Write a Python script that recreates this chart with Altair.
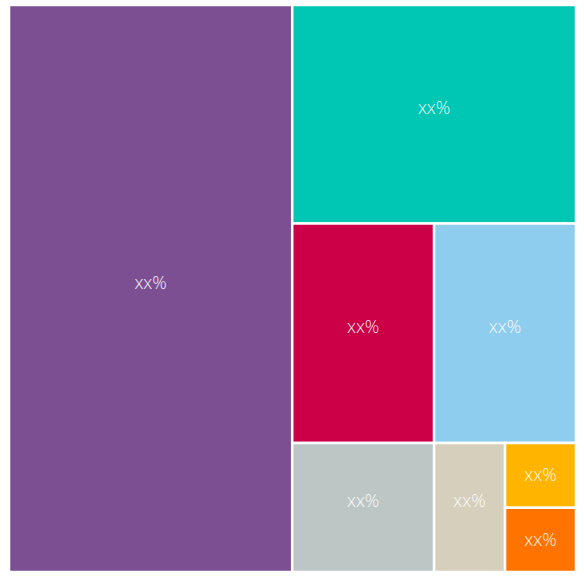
import math
import altair as alt
import pandas as pd

categories = ["A", "B", "C", "D", "E", "F", "G", "H"]
values = [50.0, 19.3, 9.7, 9.7, 5.7, 2.85, 1.43, 1.42]
labels = ["xx%", "xx%", "xx%", "xx%", "xx%", "xx%", "xx%", "xx%"]
colors = ["#7c4e92", "#00c7b3", "#cc0046", "#8ecdee", "#bcc6c4", "#d5cfbc", "#ffb400", "#ff7300"]

W, H = 567.0, 567.0


def squarify(vals, x0, y0, x1, y1, ratio=1.0):
    """d3.treemapSquarify port; returns list of (x0, y0, x1, y1) in pixel space."""
    out = [None] * len(vals)
    n = len(vals)
    value = sum(vals)
    i0 = i1 = 0
    while i0 < n:
        dx, dy = x1 - x0, y1 - y0
        sumv = vals[i1]
        i1 += 1
        minv = maxv = sumv
        alpha = max(dy / dx, dx / dy) / (value * ratio)
        beta = sumv * sumv * alpha
        minr = max(maxv / beta, beta / minv)
        while i1 < n:
            nv = vals[i1]
            sumv += nv
            minv = min(minv, nv)
            maxv = max(maxv, nv)
            beta = sumv * sumv * alpha
            newr = max(maxv / beta, beta / minv)
            if newr > minr:
                sumv -= nv
                break
            minr = newr
            i1 += 1
        row = list(range(i0, i1))
        if dx < dy:
            ny = y0 + dy * sumv / value
            cx = x0
            for k in row:
                w = (x1 - x0) * vals[k] / sumv
                out[k] = (cx, y0, cx + w, ny)
                cx += w
            y0 = ny
        else:
            nx = x0 + dx * sumv / value
            cy = y0
            for k in row:
                h = (y1 - y0) * vals[k] / sumv
                out[k] = (x0, cy, nx, cy + h)
                cy += h
            x0 = nx
        value -= sumv
        i0 = i1
    return out


rects = squarify(values, 0, 0, W, H)
df = pd.DataFrame({
    "cat": categories,
    "value": values,
    "label": labels,
    "x0": [r[0] for r in rects],
    "y0": [r[1] for r in rects],
    "x1": [r[2] for r in rects],
    "y1": [r[3] for r in rects],
})
df["cx"] = (df["x0"] + df["x1"]) / 2
df["cy"] = (df["y0"] + df["y1"]) / 2

xs = alt.Scale(domain=[0, W])
ys = alt.Scale(domain=[0, H], reverse=True)

base = alt.Chart(df)
rect = base.mark_rect(stroke="white", strokeWidth=2.5).encode(
    x=alt.X("x0:Q", scale=xs, axis=None),
    x2="x1:Q",
    y=alt.Y("y0:Q", scale=ys, axis=None),
    y2="y1:Q",
    color=alt.Color("cat:N", scale=alt.Scale(domain=categories, range=colors), legend=None),
)
text_style = dict(font="Open Sans", fontSize=18, fontWeight=300, color="white",
                  opacity=0.92, align="center")
text_enc = dict(x=alt.X("cx:Q", scale=xs), y=alt.Y("cy:Q", scale=ys), text="label:N")

text_big = base.transform_filter("datum.value >= 2").mark_text(
    baseline="alphabetic", **text_style).encode(**text_enc)
text_small = base.transform_filter("datum.value < 2").mark_text(
    baseline="middle", dy=1, **text_style).encode(**text_enc)

chart = (rect + text_big + text_small).properties(
    width=W, height=H,
    padding={"left": 9, "top": 5, "right": 0, "bottom": 0},
    autosize=alt.AutoSizeParams(type="none"),
).configure_view(stroke=None)

chart.save("out.html", embed_options={"renderer": "svg", "actions": False})
